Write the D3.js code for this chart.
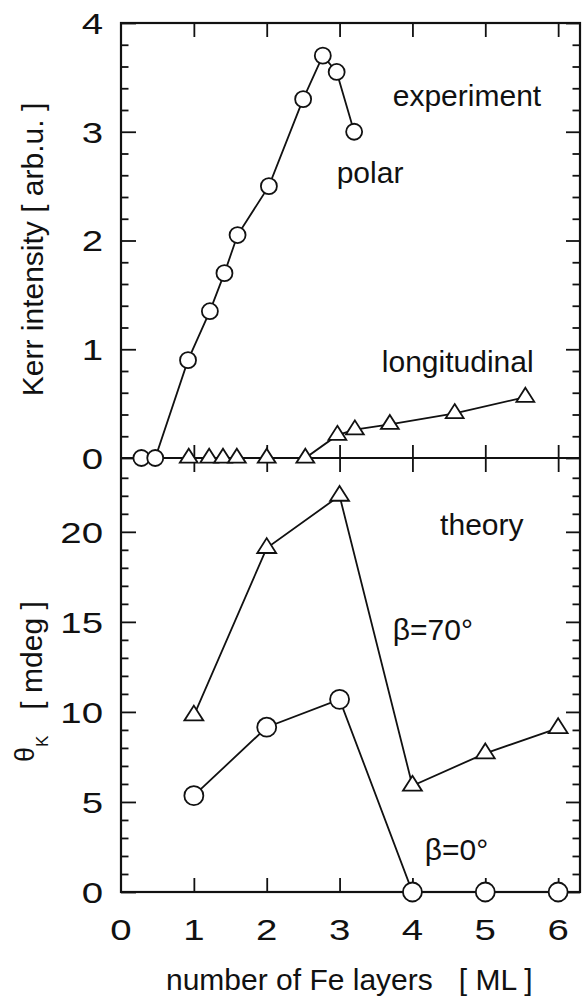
<!DOCTYPE html>
<html>
<head>
<meta charset="utf-8">
<script src="https://cdn.jsdelivr.net/npm/d3@7"></script>
<style>
  body { margin: 0; background: #fff; }
  svg { display: block; }
  text { font-family: "Liberation Sans", Arial, sans-serif; fill: #111; }
</style>
</head>
<body>
<div id="chart"></div>
<script>
// experiment (top panel)
var polarX = [0.28, 0.47, 0.92, 1.22, 1.42, 1.60, 2.03, 2.50, 2.77, 2.96, 3.20];
var polarY = [0, 0, 0.90, 1.35, 1.70, 2.05, 2.50, 3.30, 3.70, 3.55, 3.00];
var longX = [0.93, 1.21, 1.40, 1.59, 2.00, 2.53, 2.97, 3.21, 3.69, 4.58, 5.55];
var longY = [0, 0, 0, 0, 0, 0, 0.21, 0.26, 0.31, 0.41, 0.56];

// theory (bottom panel)
var theoryX = [1, 2, 3, 4, 5, 6];
var beta70 = [9.8, 19.1, 22.0, 5.9, 7.7, 9.1];
var beta0 = [5.35, 9.15, 10.7, 0, 0, 0];

// ticks
var xTickVals = [1, 2, 3, 4, 5, 6];
var xTickLabels = [0, 1, 2, 3, 4, 5, 6];
var topTickLabels = [0, 1, 2, 3, 4];
var topMinor = d3.range(0.2, 4, 0.2).filter(function(v) { return Math.abs(v - Math.round(v)) > 0.01; });
var botTickLabels = [0, 5, 10, 15, 20];
var botMinor = d3.range(1, 24).filter(function(v) { return v % 5 !== 0; });

(function() {
  var width = 585, height = 1002;
  var pLeft = 121, pRight = 580, pTop = 23, pMid = 458, pBottom = 892;

  var x = d3.scaleLinear().domain([0, 6.3]).range([pLeft, pRight]);
  var yTop = d3.scaleLinear().domain([0, 4]).range([pMid, pTop]);
  var yBot = d3.scaleLinear().domain([0, 24.1]).range([pBottom, pMid]);

  var svg = d3.select("#chart").append("svg")
    .attr("width", width)
    .attr("height", height);

  function cleanAxis(g) {
    g.select(".domain").remove();
    g.selectAll(".tick line").attr("stroke", "#111").attr("stroke-width", 1.8);
    g.selectAll(".tick text").remove();
  }

  // y ticks, both panels, both sides (pointing inward)
  function yTicks(scale, major, minor) {
    svg.append("g").attr("transform", "translate(" + pLeft + ",0)")
      .call(d3.axisLeft(scale).tickValues(major).tickSize(-15)).call(cleanAxis);
    svg.append("g").attr("transform", "translate(" + pLeft + ",0)")
      .call(d3.axisLeft(scale).tickValues(minor).tickSize(-7.5)).call(cleanAxis);
    svg.append("g").attr("transform", "translate(" + pRight + ",0)")
      .call(d3.axisRight(scale).tickValues(major).tickSize(-14)).call(cleanAxis);
    svg.append("g").attr("transform", "translate(" + pRight + ",0)")
      .call(d3.axisRight(scale).tickValues(minor).tickSize(-7.5)).call(cleanAxis);
  }
  yTicks(yTop, topTickLabels, topMinor);
  yTicks(yBot, botTickLabels, botMinor);

  // x ticks: top edge, divider (both ways), bottom edge
  svg.append("g").attr("transform", "translate(0," + pTop + ")")
    .call(d3.axisTop(x).tickValues(xTickVals).tickSize(-14)).call(cleanAxis);
  svg.append("g").attr("transform", "translate(0," + pMid + ")")
    .call(d3.axisBottom(x).tickValues(xTickVals).tickSize(-13)).call(cleanAxis);
  svg.append("g").attr("transform", "translate(0," + pMid + ")")
    .call(d3.axisTop(x).tickValues(xTickVals).tickSize(-14)).call(cleanAxis);
  svg.append("g").attr("transform", "translate(0," + pBottom + ")")
    .call(d3.axisBottom(x).tickValues(xTickVals).tickSize(-14)).call(cleanAxis);

  // frame
  svg.append("rect")
    .attr("x", pLeft).attr("y", pTop)
    .attr("width", pRight - pLeft).attr("height", pBottom - pTop)
    .attr("fill", "none").attr("stroke", "#111").attr("stroke-width", 2.2);
  svg.append("line")
    .attr("x1", pLeft).attr("x2", pRight).attr("y1", pMid).attr("y2", pMid)
    .attr("stroke", "#111").attr("stroke-width", 2.2);

  // tick labels (wide digits)
  var sx = 1.28;
  function yLabels(scale, vals) {
    svg.append("g").selectAll("text").data(vals).enter().append("text")
      .attr("text-anchor", "end")
      .attr("font-size", 30)
      .attr("dy", "0.36em")
      .attr("transform", function(d) { return "translate(103," + scale(d) + ") scale(" + sx + ",1)"; })
      .text(function(d) { return d; });
  }
  yLabels(yTop, topTickLabels);
  yLabels(yBot, botTickLabels);

  svg.append("g").selectAll("text").data(xTickLabels).enter().append("text")
    .attr("text-anchor", "middle")
    .attr("font-size", 30)
    .attr("transform", function(d) { return "translate(" + x(d) + ",940) scale(" + sx + ",1)"; })
    .text(function(d) { return d; });

  // series
  function zip(xs, ys) { return xs.map(function(v, i) { return [v, ys[i]]; }); }

  function drawSeries(pts, ys, shape, size) {
    var line = d3.line().x(function(d) { return x(d[0]); }).y(function(d) { return ys(d[1]); });
    svg.append("path").datum(pts)
      .attr("d", line)
      .attr("fill", "none").attr("stroke", "#111").attr("stroke-width", 1.8);
    var g = svg.append("g");
    if (shape === "circle") {
      g.selectAll("circle").data(pts).enter().append("circle")
        .attr("cx", function(d) { return x(d[0]); })
        .attr("cy", function(d) { return ys(d[1]); })
        .attr("r", size)
        .attr("fill", "#fff").attr("stroke", "#111").attr("stroke-width", 1.8);
    } else {
      var w = size * 2.1, h = size * 1.65;
      var tri = "M0," + (-2 * h / 3) + "L" + (w / 2) + "," + (h / 3) + "L" + (-w / 2) + "," + (h / 3) + "Z";
      g.selectAll("path").data(pts).enter().append("path")
        .attr("d", tri)
        .attr("transform", function(d) { return "translate(" + x(d[0]) + "," + ys(d[1]) + ")"; })
        .attr("fill", "#fff").attr("stroke", "#111").attr("stroke-width", 1.8);
    }
  }

  drawSeries(zip(longX, longY), yTop, "triangle", 8.5);
  drawSeries(zip(polarX, polarY), yTop, "circle", 8);
  drawSeries(zip(theoryX, beta70), yBot, "triangle", 9);
  drawSeries(zip(theoryX, beta0), yBot, "circle", 9.5);

  // annotations
  function note(txt, px, py) {
    svg.append("text").attr("x", px).attr("y", py).attr("font-size", 30).text(txt);
  }
  note("experiment", x(3.73), yTop(3.24));
  note("polar", x(2.96), yTop(2.53));
  note("longitudinal", x(3.58), yTop(0.79));
  note("theory", x(4.38), yBot(19.8));
  note("\u03b2=70\u00b0", x(3.73), yBot(14.0));
  note("\u03b2=0\u00b0", x(4.17), yBot(1.78));

  // axis titles
  svg.append("text")
    .attr("transform", "translate(43," + ((pTop + pMid) / 2 + 9) + ") rotate(-90)")
    .attr("text-anchor", "middle")
    .attr("font-size", 30)
    .text("Kerr intensity [ arb.u. ]");

  var yt = svg.append("text")
    .attr("transform", "translate(42,762) rotate(-90)")
    .attr("font-size", 30);
  yt.append("tspan").attr("font-size", 27).attr("dy", -8).text("\u03b8");
  yt.append("tspan").attr("font-size", 17).attr("dy", 14).text("K");
  yt.append("tspan").attr("dy", -6).attr("dx", 26).text("[ mdeg ]");

  var xt = svg.append("text")
    .attr("x", 166).attr("y", 990)
    .attr("font-size", 30);
  xt.append("tspan").text("number of Fe layers");
  xt.append("tspan").attr("dx", 26).text("[ ML ]");
})();
</script>
</body>
</html>
